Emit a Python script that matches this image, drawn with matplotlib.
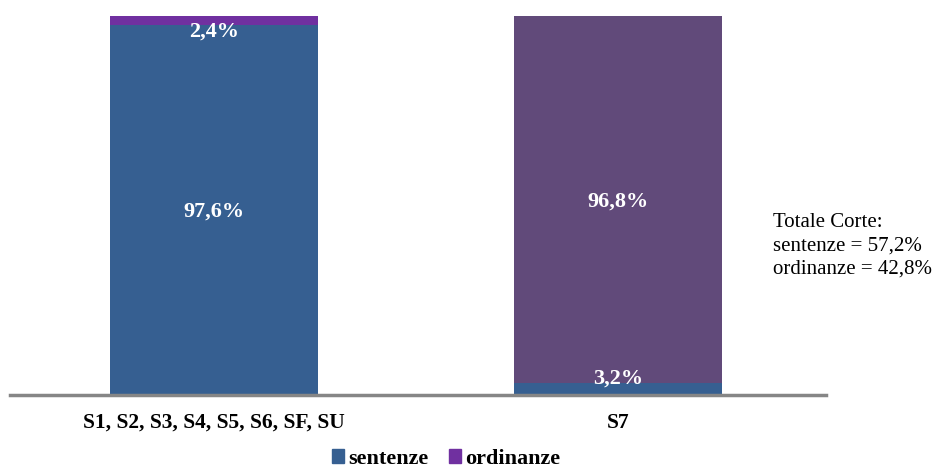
import matplotlib.pyplot as plt
from matplotlib.patches import Patch

plt.rcParams['font.family'] = ['Liberation Serif', 'DejaVu Serif']

categories = ["S1, S2, S3, S4, S5, S6, SF, SU", "S7"]
sentenze = [97.6, 3.2]
ordinanze = [2.4, 96.8]
ordinanze_colors = ["#7030A0", "#614A7A"]
blue = "#365F91"

fig = plt.figure(figsize=(9.35, 4.68), dpi=100)
ax = fig.add_axes([10 / 935, (468 - 395) / 468, (826 - 10) / 935, (395 - 16) / 468])

x = range(len(categories))
ax.bar(x, sentenze, width=0.515, color=blue)
ax.bar(x, ordinanze, width=0.515, bottom=sentenze, color=ordinanze_colors)

# value labels
lab = dict(ha="center", va="center", color="white", fontsize=16, fontweight="bold")
ax.text(0, sentenze[0] / 2 - 0.5, "97,6%", **lab)
ax.text(0, 95.8, "2,4%", **lab)
ax.text(1, sentenze[1] + ordinanze[1] / 2 - 0.5, "96,8%", **lab)
ax.text(1, 4.3, "3,2%", **lab)

ax.set_xlim(-0.505, 1.515)
ax.set_ylim(0, 100)
ax.set_xticks(list(x))
ax.set_xticklabels(categories, fontsize=15.5, fontweight="bold")
ax.tick_params(axis="x", length=0, pad=13)
ax.set_yticks([])
for s in ["top", "right", "left"]:
    ax.spines[s].set_visible(False)
ax.spines["bottom"].set_color("#868686")
ax.spines["bottom"].set_linewidth(2.5)

fig.text(773 / 935, 1 - 246 / 468, "Totale Corte:\nsentenze = 57,2%\nordinanze = 42,8%",
         ha="left", va="center", fontsize=15, linespacing=1.3)

handles = [Patch(color=blue, label="sentenze"), Patch(color="#7030A0", label="ordinanze")]
fig.legend(handles=handles, loc="center", bbox_to_anchor=(446 / 935, 1 - 459 / 468),
           ncol=2, frameon=False, prop={"weight": "bold", "size": 16},
           handlelength=0.55, handleheight=0.55, handletextpad=0.18, columnspacing=0.95,
           borderpad=0)

fig.savefig("out.png")
